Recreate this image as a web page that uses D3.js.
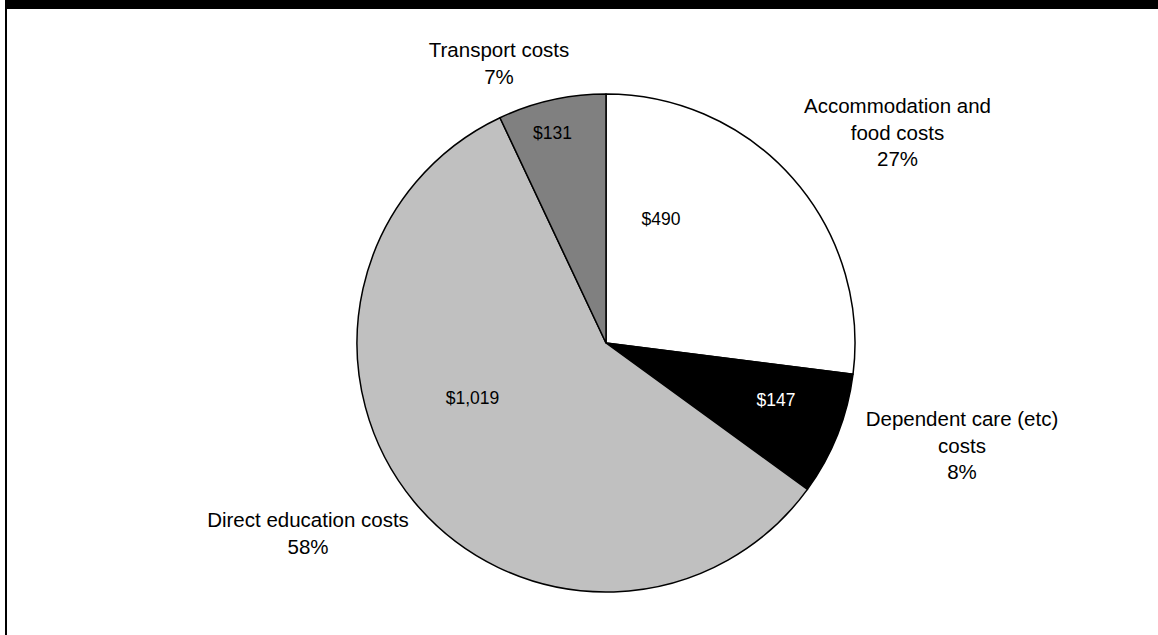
<!DOCTYPE html>
<html>
<head>
<meta charset="utf-8">
<script src="https://cdn.jsdelivr.net/npm/d3@7"></script>
<style>
  html, body { margin: 0; padding: 0; background: #fff; }
  svg { display: block; }
  text { font-family: "Liberation Sans", Arial, sans-serif; fill: #000; }
</style>
</head>
<body>
<svg id="chart" width="1158" height="635"></svg>
<script>
// Cost components, in clockwise order from 12 o'clock
const categories = ["Accommodation and food costs", "Dependent care (etc) costs", "Direct education costs", "Transport costs"];
const shares = [27, 8, 58, 7];            // per cent of total
const amounts = ["$490", "$147", "$1,019", "$131"];
const categoryLines = [
  ["Accommodation and", "food costs"],
  ["Dependent care (etc)", "costs"],
  ["Direct education costs"],
  ["Transport costs"]
];
const fills = ["#ffffff", "#000000", "#c0c0c0", "#808080"];
const amountColours = ["#000", "#fff", "#000", "#000"];

const W = 1158, H = 635;
const cx = 606, cy = 343, R = 249;

// Label anchors, relative to the pie centre
const amountPos = [[55, -118], [170, 63], [-133.5, 61], [-53.5, -204]];
const categoryPos = [[291.5, -230], [356, 83], [-298, 184], [-107, -286]];
const lineStep = 26.5;

const svg = d3.select("#chart");

// Frame: heavy top bar and a left rule
svg.append("rect").attr("x", 5).attr("y", 0).attr("width", W - 5).attr("height", 9).attr("fill", "#000");
svg.append("rect").attr("x", 5).attr("y", 0).attr("width", 2).attr("height", H).attr("fill", "#000");

const data = categories.map((c, i) => ({ name: c, share: shares[i], amount: amounts[i], i }));

const pie = d3.pie().sort(null).value(d => d.share);
const arc = d3.arc().innerRadius(0).outerRadius(R);
const arcs = pie(data);

const g = svg.append("g").attr("transform", `translate(${cx},${cy})`);

g.selectAll("path.slice")
  .data(arcs)
  .join("path")
  .attr("class", "slice")
  .attr("d", arc)
  .attr("fill", d => fills[d.data.i])
  .attr("stroke", "#000")
  .attr("stroke-width", 1.5)
  .attr("stroke-linejoin", "round");

// Amount labels inside the slices
g.selectAll("text.amount")
  .data(arcs)
  .join("text")
  .attr("class", "amount")
  .attr("x", d => amountPos[d.data.i][0])
  .attr("y", d => amountPos[d.data.i][1])
  .attr("text-anchor", "middle")
  .attr("font-size", "17.5px")
  .style("fill", d => amountColours[d.data.i])
  .text(d => d.data.amount);

// Category name and share outside the pie
const cat = g.selectAll("text.category")
  .data(arcs)
  .join("text")
  .attr("class", "category")
  .attr("text-anchor", "middle")
  .attr("font-size", "20.5px")
  .attr("x", d => categoryPos[d.data.i][0])
  .attr("y", d => categoryPos[d.data.i][1]);

cat.each(function(d) {
  const t = d3.select(this);
  const lines = categoryLines[d.data.i].concat([`${d.data.share}%`]);
  const [x] = categoryPos[d.data.i];
  lines.forEach((l, k) => {
    t.append("tspan").attr("x", x).attr("dy", k === 0 ? 0 : lineStep).text(l);
  });
});
</script>
</body>
</html>
